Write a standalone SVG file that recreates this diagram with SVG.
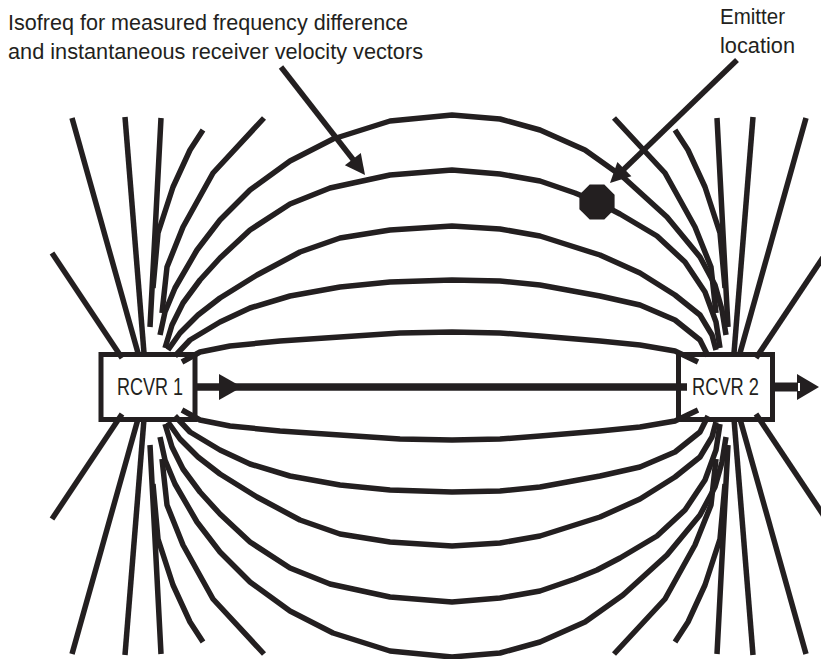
<svg xmlns="http://www.w3.org/2000/svg" xmlns:xlink="http://www.w3.org/1999/xlink" width="821" height="659" viewBox="0 0 821 659">
<style>
.c{fill:none;stroke:#231f20;stroke-width:5.5;stroke-linejoin:round;stroke-linecap:butt}
.box{fill:#fff;stroke:#231f20;stroke-width:5}
.t{font-family:"Liberation Sans Narrow","Liberation Sans",Arial,sans-serif;fill:#231f20}
.lbl{font-size:22.5px}
.node{font-size:24px}
.ink{fill:#231f20}
</style>
<defs>
<g id="fanTL">
<path class="c" d="M52,253 L122,358"/>
<path class="c" d="M72,118 L138,353"/>
<path class="c" d="M125,117 L144,353"/>
<path class="c" d="M161,118 L155,233 L150,327"/>
<path class="c" d="M203,130 L190,150 L173,187 L158,233 L153,288"/>
<path class="c" d="M264,118 L213,173 L183,227 L167,267 L162,313"/>
</g>
</defs>
<g id="rcvr1">
<rect class="box" x="101" y="354.5" width="94" height="65"/>
<text class="t node" x="117" y="395" textLength="66" lengthAdjust="spacingAndGlyphs">RCVR 1</text>
</g>
<g id="rcvr2">
<rect class="box" x="678.5" y="354.5" width="94" height="65"/>
<text class="t node" x="692" y="395" textLength="67" lengthAdjust="spacingAndGlyphs">RCVR 2</text>
</g>
<g id="connectors">
<use href="#fanTL"/>
<use href="#fanTL" transform="matrix(-1,0,0,1,878,0)"/>
<use href="#fanTL" transform="matrix(1,0,0,-1,0,772)"/>
<use href="#fanTL" transform="matrix(-1,0,0,-1,878,772)"/>
<g id="arcsTop">
<path class="c" d="M160,335 L165,312 L175,288 L197,250 L220,220 L250,190 L290,161 L333,139 L390,121 L452,115 L500,119 L540,130 L585,150 L623,177 L667,217 L700,257 L715,285 L722,310 L726,335"/>
<path class="c" d="M165,348 L172,325 L183,303 L200,280 L220,258 L250,230 L290,204 L330,188 L390,175 L452,170 L500,174 L540,181 L575,193 L597,202 L620,214 L657,236 L685,262 L705,292 L716,322 L720,348"/>
<path class="c" d="M168,350 L180,333 L198,315 L220,298 L257,275 L300,252 L340,238 L390,230 L452,226 L500,229 L540,236 L600,255 L640,273 L675,295 L700,315 L712,335 L716,350"/>
<path class="c" d="M175,356 L190,340 L220,322 L250,308 L290,296 L340,287 L390,282 L452,280 L500,281 L540,285 L600,296 L640,305 L675,320 L700,340 L708,356"/>
<path class="c" d="M182,362 L200,352 L230,346 L280,341 L340,337 L400,333 L452,332 L500,333 L540,336 L600,341 L640,345 L675,351 L698,362"/>
</g>
<use href="#arcsTop" transform="matrix(1,0,0,-1,0,772)"/>
<path class="c" d="M197,387 L687,387" style="stroke-width:7.5"/>
<polygon class="ink" points="219,374 242,387 219,400"/>
<path class="c" d="M772,387 L798,387" style="stroke-width:9"/>
<polygon class="ink" points="797,374 819,387 797,400"/>
<path d="M799,383 L799,391" stroke="#fff" stroke-width="2"/>
<path class="c" d="M281,67 L355,162"/>
<polygon class="ink" points="365,175 344.9,165.2 360.8,153"/>
<path class="c" d="M737,60 L620,173"/>
<polygon class="ink" points="610,183 631.4,176.3 617.4,161.9"/>
</g>
<g id="emitter">
<polygon class="ink" points="614.6,194.7 614.6,209.3 604.3,219.6 589.7,219.6 579.4,209.3 579.4,194.7 589.7,184.4 604.3,184.4"/>
</g>
<g id="label-isofreq">
<text class="t lbl" x="8" y="30" textLength="400" lengthAdjust="spacingAndGlyphs">Isofreq for measured frequency difference</text>
<text class="t lbl" x="8" y="59" textLength="415" lengthAdjust="spacingAndGlyphs">and instantaneous receiver velocity vectors</text>
</g>
<g id="label-emitter">
<text class="t lbl" x="720" y="24" textLength="65" lengthAdjust="spacingAndGlyphs">Emitter</text>
<text class="t lbl" x="720" y="53" textLength="75" lengthAdjust="spacingAndGlyphs">location</text>
</g>
</svg>
